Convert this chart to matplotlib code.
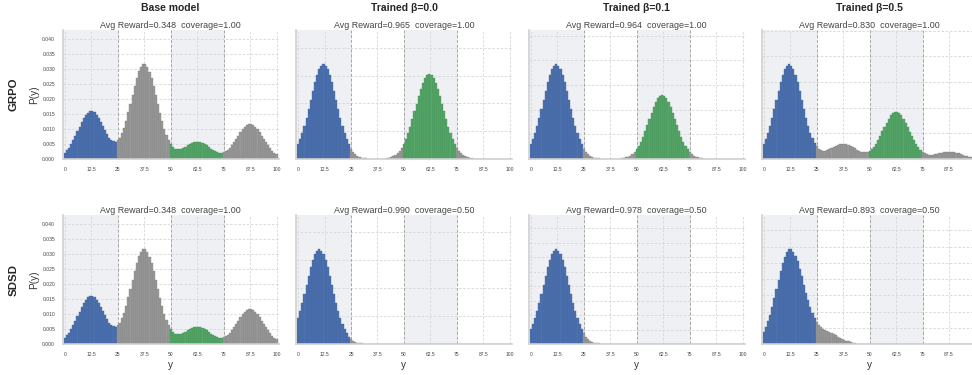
import matplotlib

matplotlib.use("Agg")
import matplotlib.pyplot as plt  # noqa: E402
import numpy as np  # noqa: E402
from matplotlib.ticker import MaxNLocator  # noqa: E402

plt.rcParams.update({
    "font.family": ["Liberation Sans", "DejaVu Sans"],
    "axes.linewidth": 1.2,
})

# ---- data (P(y) in units of 1e-3, y = 0..100) ----
y_vals = np.arange(101)

base_model = [
    2.08, 2.85, 3.78, 4.91, 6.22, 7.65, 9.17, 10.73, 12.21, 13.56, 14.66, 15.44, 15.85,
    15.86, 15.47, 14.70, 13.64, 12.34, 10.95, 9.54, 8.24, 7.13, 6.30, 5.83, 5.80,
    6.21, 7.13, 8.53, 10.43, 12.78, 15.45, 18.37, 21.37, 24.26, 26.91, 29.06, 30.60, 31.41,
    31.41, 30.59, 29.04, 26.88, 24.21, 21.30, 18.25, 15.26, 12.49, 9.99, 7.88, 6.18,
    4.89, 3.99, 3.43, 3.18, 3.18, 3.38, 3.72, 4.14, 4.58, 5.03, 5.39, 5.66, 5.80,
    5.79, 5.64, 5.37, 4.98, 4.50, 4.00, 3.48, 3.00, 2.60, 2.30, 2.13, 2.12,
    2.27, 2.60, 3.12, 3.81, 4.67, 5.64, 6.71, 7.80, 8.85, 9.82, 10.60, 11.17, 11.47,
    11.47, 11.17, 10.60, 9.82, 8.83, 7.76, 6.64, 5.53, 4.50, 3.55, 2.74, 2.06, 1.51,
]
grpo_b00 = [
    5.24, 7.04, 9.25, 11.87, 14.79, 17.99, 21.28, 24.55, 27.61, 30.26, 32.27, 33.56, 34.00,
    33.56, 32.27, 30.26, 27.61, 24.55, 21.28, 17.99, 14.79, 11.87, 9.25, 7.04, 5.24,
    3.77, 2.66, 1.82, 1.22, 0.79, 0.50, 0.31, 0.19, 0.11, 0.06, 0.03, 0, 0,
    0, 0.05, 0.10, 0.16, 0.27, 0.42, 0.66, 1.00, 1.48, 2.13, 2.99, 4.12,
    5.55, 7.29, 9.33, 11.68, 14.30, 17.08, 19.92, 22.69, 25.25, 27.42, 29.10, 30.13, 30.50,
    30.13, 29.10, 27.42, 25.25, 22.69, 19.92, 17.08, 14.30, 11.68, 9.33, 7.29, 5.55,
    4.12, 2.99, 2.13, 1.48, 1.00, 0.66, 0.42, 0.27, 0.16, 0.10, 0.05, 0, 0,
] + [0] * 13
grpo_b01 = [
    5.91, 7.95, 10.44, 13.40, 16.70, 20.31, 24.04, 27.72, 31.18, 34.18, 36.44, 37.90, 38.40,
    37.90, 36.44, 34.18, 31.18, 27.72, 24.04, 20.31, 16.70, 13.40, 10.44, 7.95, 5.91,
    4.26, 3.00, 2.06, 1.37, 0.89, 0.57, 0.35, 0.21, 0.12, 0.07, 0, 0, 0,
    0, 0, 0, 0.08, 0.14, 0.24, 0.38, 0.61, 0.93, 1.39, 2.03, 2.89,
    4.00, 5.38, 7.07, 9.07, 11.31, 13.75, 16.28, 18.77, 21.11, 23.14, 24.67, 25.66, 26.00,
    25.66, 24.67, 23.14, 21.11, 18.77, 16.28, 13.75, 11.31, 9.07, 7.07, 5.38, 4.00,
    2.89, 2.03, 1.39, 0.93, 0.61, 0.38, 0.24, 0.14, 0.08, 0, 0, 0, 0,
] + [0] * 13
grpo_b05 = [
    5.68, 7.64, 10.04, 12.88, 16.05, 19.52, 23.10, 26.64, 29.96, 32.84, 35.02, 36.42, 36.90,
    36.42, 35.03, 32.85, 29.97, 26.67, 23.14, 19.59, 16.16, 13.05, 10.30, 8.03, 6.24,
    4.89, 3.96, 3.41, 3.17, 3.21, 3.44, 3.80, 4.25, 4.73, 5.19, 5.57, 5.83, 5.98,
    5.99, 5.85, 5.56, 5.16, 4.69, 4.18, 3.68, 3.23, 2.89, 2.66, 2.63, 2.80,
    3.21, 3.87, 4.79, 5.98, 7.40, 9.01, 10.74, 12.53, 14.21, 15.78, 17.06, 17.96, 18.44,
    18.44, 17.96, 17.06, 15.79, 14.22, 12.51, 10.70, 8.95, 7.31, 5.84, 4.58, 3.57,
    2.79, 2.23, 1.87, 1.68, 1.63, 1.69, 1.84, 2.02, 2.23, 2.44, 2.61, 2.72, 2.79,
    2.79, 2.72, 2.58, 2.39, 2.15, 1.89, 1.62, 1.35, 1.09, 0.87, 0.67, 0.50, 0.37,
]
sdsd_b00 = [
    18.41, 23.63, 29.45, 35.81, 42.38, 48.88, 54.97, 60.25, 64.25, 66.82, 67.70, 66.82, 64.25,
    60.25, 54.97, 48.88, 42.38, 35.81, 29.45, 23.63, 18.41, 14.01, 10.43, 7.51, 5.29,
    3.63, 2.42, 1.58, 1.00, 0.62, 0.37, 0.22, 0.12, 0.07, 0, 0, 0, 0,
] + [0] * 63
sdsd_b01 = [
    10.06, 13.52, 17.76, 22.79, 28.41, 34.54, 40.88, 47.15, 53.02, 58.12, 61.97, 64.45, 65.30,
    64.45, 61.97, 58.12, 53.02, 47.15, 40.88, 34.54, 28.41, 22.79, 17.76, 13.52, 10.06,
    7.25, 5.11, 3.50, 2.34, 1.52, 0.97, 0.59, 0.36, 0.21, 0.12, 0, 0, 0,
] + [0] * 63
sdsd_b05 = [
    7.66, 10.47, 13.92, 18.08, 22.87, 28.14, 33.75, 39.49, 44.93, 49.90, 53.94, 56.80, 58.32,
    58.32, 56.80, 54.44, 50.90, 46.53, 41.69, 36.55, 31.54, 26.87, 22.58, 18.92, 15.97,
    13.66, 11.87, 10.50, 9.47, 8.70, 8.09, 7.38, 6.62, 5.95, 5.24, 4.58, 3.94, 3.32,
    2.71, 2.11, 1.60, 1.10, 0.70, 0.40, 0.20, 0.10, 0, 0, 0, 0,
] + [0] * 51

methods = ["GRPO", "SDSD"]
columns = ["Base model", "Trained β=0.0", "Trained β=0.1", "Trained β=0.5"]
panels = [
    [base_model, grpo_b00, grpo_b01, grpo_b05],
    [base_model, sdsd_b00, sdsd_b01, sdsd_b05],
]
avg_reward = [[0.348, 0.965, 0.964, 0.830], [0.348, 0.990, 0.978, 0.893]]
coverage = [[1.00, 1.00, 1.00, 1.00], [1.00, 0.50, 0.50, 0.50]]

x_ticks = [0, 12.5, 25, 37.5, 50, 62.5, 75, 87.5, 100]
x_tick_labels = ["0", "12.5", "25", "37.5", "50", "62.5", "75", "87.5", "100"]
reward_regions = [(0, 25), (50, 75)]

BLUE, GREEN, GRAY = "#4c72b0", "#55a868", "#999999"
EDGE = {BLUE: "#3d5f96", GREEN: "#438a55", GRAY: "#7d7d7d"}


def bar_color(y):
    if y < 25:
        return BLUE
    if 50 <= y < 75:
        return GREEN
    return GRAY


bar_colors = [bar_color(y) for y in y_vals]
edge_colors = [EDGE[c] for c in bar_colors]

# ---- layout: last column runs past the right edge, as in the source figure ----
fig = plt.figure(figsize=(9.72, 3.75), dpi=100)
lefts = [0.0645, 0.3045, 0.5440, 0.7836]
bottoms = [0.576, 0.0827]
width, height = 0.2222, 0.343

for r, method in enumerate(methods):
    for c, col in enumerate(columns):
        ax = fig.add_axes([lefts[c], bottoms[r], width, height])
        probs = np.array(panels[r][c]) / 1000.0

        for lo, hi in reward_regions:
            ax.axvspan(-5 if lo == 0 else lo, hi, color="#eef0f3", zorder=0, lw=0)
        for xb in (25, 50, 75):
            ax.axvline(xb, color="#a6a6a6", lw=0.7, ls=(0, (3, 2)), zorder=0.6)

        ax.bar(y_vals, probs, width=1.0, color=bar_colors, edgecolor=edge_colors,
               linewidth=0.25, zorder=2)

        ax.set_xlim(-1.0, 101.0)
        ax.set_ylim(0, probs.max() * 1.36)
        ax.yaxis.set_major_locator(MaxNLocator(nbins=9, steps=[1, 2, 2.5, 5, 10]))
        ax.set_xticks(x_ticks)
        # the "100" label of the last column falls outside the saved image
        labels = x_tick_labels[:-1] + [""] if c == len(columns) - 1 else x_tick_labels
        ax.set_xticklabels(labels)

        ax.set_axisbelow(True)
        ax.grid(True, color="#d6d6d6", lw=0.6, ls=(0, (3, 2)))
        for side in ("top", "right"):
            ax.spines[side].set_visible(False)
        for side in ("left", "bottom"):
            ax.spines[side].set_color("#d0d0d0")
            ax.spines[side].set_linewidth(1.2)

        ax.tick_params(length=0, labelsize=3.6, pad=5.5, labelcolor="#444444")
        if c == 0:
            ax.set_ylabel("P(y)", fontsize=7.2, color="#333333", labelpad=2)
        else:
            ax.tick_params(labelleft=False)
        if r == 1:
            ax.set_xlabel("y", fontsize=7.2, color="#333333", labelpad=2.5)

        ax.set_title(f"Avg Reward={avg_reward[r][c]:.3f}  coverage={coverage[r][c]:.2f}",
                     fontsize=6.4, color="#444444", pad=1.5)

        if r == 0:
            fig.text(lefts[c] + width / 2, 1 - 8.3 / 375, col, ha="center", va="center",
                     fontsize=7.5, fontweight="bold", color="#262626")
    fig.text(0.0142, bottoms[r] + height / 2, method, rotation=90, ha="center",
             va="center", fontsize=8.2, fontweight="bold", color="#262626")

fig.savefig("out.png", dpi=100, facecolor="white")
